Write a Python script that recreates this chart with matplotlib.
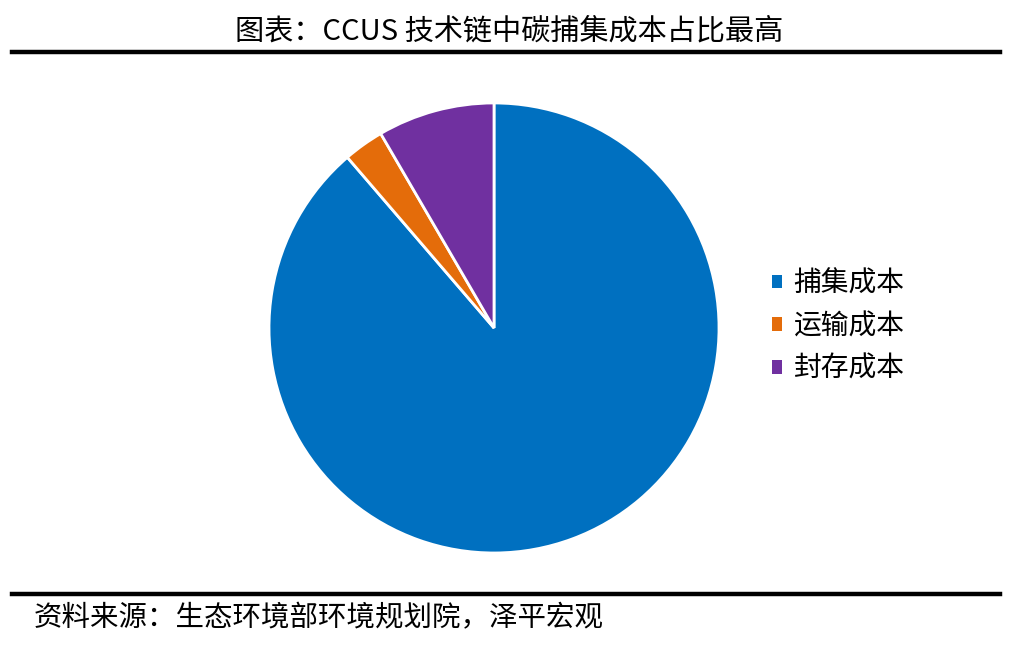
import matplotlib.pyplot as plt
from matplotlib.lines import Line2D
from matplotlib.patches import Patch

plt.rcParams['font.family'] = ['Noto Sans CJK SC', 'DejaVu Sans']

# Data
labels = ["捕集成本", "运输成本", "封存成本"]
shares = [88.7, 2.9, 8.4]
colors = ["#0070C0", "#E46C0A", "#7030A0"]

title = "图表：CCUS 技术链中碳捕集成本占比最高"
source = "资料来源：生态环境部环境规划院，泽平宏观"

fig = plt.figure(figsize=(10.12, 6.46), dpi=100)

# Pie chart
ax = fig.add_axes([0.2658, 0.144, 0.4447, 0.6966])
ax.pie(shares, colors=colors, startangle=90, counterclock=False,
       wedgeprops={'edgecolor': 'white', 'linewidth': 2})
ax.set_xlim(-1.0, 1.0)
ax.set_ylim(-1.0, 1.0)
ax.set_aspect('equal')
ax.axis('off')

# Legend
handles = [Patch(facecolor=c, edgecolor='none') for c in colors]
fig.legend(handles, labels, loc='center left', bbox_to_anchor=(0.738, 0.495),
           frameon=False, fontsize=20, handlelength=0.38, handleheight=0.38,
           handletextpad=0.4, labelspacing=0.46)

# Title and rules
fig.text(0.503, 0.951, title, ha='center', va='center', fontsize=21)
fig.add_artist(Line2D([0.012, 0.988], [0.9195, 0.9195], color='black', linewidth=3.2))
fig.add_artist(Line2D([0.012, 0.988], [0.0805, 0.0805], color='black', linewidth=3.2))

# Source note
fig.text(0.033, 0.043, source, ha='left', va='center', fontsize=20.5, style='italic')

fig.savefig("out.png", dpi=100)
